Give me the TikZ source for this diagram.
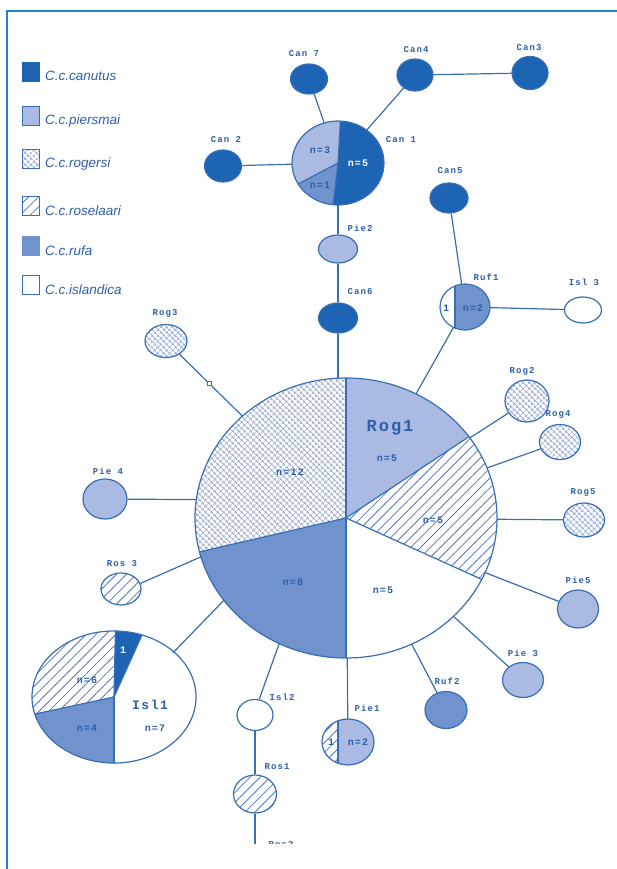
\documentclass[tikz,border=0pt]{standalone}
\usepackage{fontspec}
\setmainfont{Liberation Sans}
\newfontfamily\hapfont{Liberation Mono}[LetterSpace=12]
\usetikzlibrary{shapes.geometric,patterns.meta}

\definecolor{frameblue}{RGB}{30,130,210}
\definecolor{edge}{RGB}{55,110,180}
\definecolor{txtblue}{RGB}{45,95,170}
\definecolor{canc}{RGB}{30,100,180}
\definecolor{piec}{RGB}{170,186,226}
\definecolor{rufc}{RGB}{112,146,205}
\definecolor{rogc}{RGB}{135,160,215}
\definecolor{rosc}{RGB}{80,120,190}

% one slice of a pie: centre, x radius, y radius, from, to, style
\newcommand{\piepart}[6]{\path[#6] (#1) -- ++(#4:#2 and #3) arc[start angle=#4, end angle=#5, x radius=#2, y radius=#3] -- cycle;}

\tikzset{
  link/.style={draw=edge, line width=1.2pt},
  sz/.style 2 args={minimum width=#1pt, minimum height=#2pt},
  rogfill/.style={pattern={Hatch[angle=45,distance=4pt,line width=0.55pt]}, pattern color=rogc},
  rosfill/.style={pattern={Lines[angle=45,distance=7pt,line width=0.8pt]}, pattern color=rosc},
  hap/.style={ellipse, draw=edge, line width=1.2pt, inner sep=0pt},
  slot/.style={ellipse, inner sep=0pt},
  can/.style={hap, fill=canc},
  pie/.style={hap, fill=piec},
  ruf/.style={hap, fill=rufc},
  isl/.style={hap, fill=white},
  rog/.style={hap, rogfill},
  ros/.style={hap, rosfill},
  lbl/.style={font=\hapfont\bfseries\fontsize{9}{10}\selectfont, text=txtblue, inner sep=0pt},
  num/.style={font=\hapfont\bfseries\fontsize{10}{11}\selectfont, text=txtblue, inner sep=0pt},
  bignum/.style={font=\hapfont\bfseries\fontsize{17}{18}\selectfont, text=txtblue, inner sep=0pt},
  key/.style={font=\itshape\fontsize{13.5}{15}\selectfont, text=txtblue, anchor=west, inner sep=0pt},
  keybox/.style={draw=edge, line width=0.8pt, sz={17}{19}, inner sep=0pt},
  frame/.style={draw=frameblue, line width=1.4pt},
  mut/.style={draw=edge, fill=white, line width=0.8pt, minimum size=4pt, inner sep=0pt},
}

\begin{document}
\begin{tikzpicture}[x=1pt, y=1pt]
  \useasboundingbox (0,0) rectangle (617,-869);
  \draw[frame] (7,-869) -- (7,-11) -- (617,-11);

  %legend
  \node[keybox, fill=canc, draw=canc] (k1) at (31,-72) {};
  \node[key] (t1) at (45,-76) {C.c.canutus};
  \node[keybox, fill=piec] (k2) at (31,-116) {};
  \node[key] (t2) at (45,-121) {C.c.piersmai};
  \node[keybox, rogfill] (k3) at (31,-159) {};
  \node[key] (t3) at (45,-164) {C.c.rogersi};
  \node[keybox, rosfill] (k4) at (31,-206) {};
  \node[key] (t4) at (45,-211) {C.c.roselaari};
  \node[keybox, fill=rufc, draw=rufc] (k5) at (31,-246) {};
  \node[key] (t5) at (45,-251) {C.c.rufa};
  \node[keybox] (k6) at (31,-285) {};
  \node[key] (t6) at (45,-290) {C.c.islandica};

  %haplotypes
  \node[can, sz={37}{30}] (can7) at (309,-79) {};
  \node[can, sz={36}{32}] (can4) at (415,-75) {};
  \node[can, sz={36}{33}] (can3) at (530,-73) {};
  \node[can, sz={37}{32}] (can2) at (223,-166) {};
  \node[slot, sz={92}{84}] (can1) at (338,-163) {};
  \node[can, sz={38}{30}] (can5) at (449,-198) {};
  \node[pie, sz={39}{28}] (pie2) at (338,-249) {};
  \node[can, sz={39}{30}] (can6) at (338,-318) {};
  \node[slot, sz={50}{46}] (ruf1) at (465,-307) {};
  \node[isl, sz={37}{26}] (isl3) at (583,-310) {};
  \node[rog, sz={42}{33}] (rog3) at (166,-341) {};
  \node[rog, sz={44}{42}] (rog2) at (527,-401) {};
  \node[rog, sz={41}{35}] (rog4) at (560,-442) {};
  \node[rog, sz={41}{34}] (rog5) at (584,-520) {};
  \node[pie, sz={44}{40}] (pie4) at (105,-499) {};
  \node[ros, sz={40}{32}] (ros3) at (121,-589) {};
  \node[pie, sz={41}{38}] (pie5) at (578,-609) {};
  \node[pie, sz={41}{35}] (pie3) at (523,-680) {};
  \node[ruf, sz={42}{37}] (ruf2) at (446,-710) {};
  \node[isl, sz={36}{31}] (isl2) at (255,-715) {};
  \node[slot, sz={52}{46}] (pie1) at (348,-742) {};
  \node[ros, sz={43}{38}] (ros1) at (255,-794) {};
  \node[slot, sz={302}{280}] (rog1) at (346,-518) {};
  \node[slot, sz={164}{132}] (isl1) at (113,-698) {};

  %links
  \draw[link] (can7) -- (can1);
  \draw[link] (can4) -- (can1);
  \draw[link] (can4) -- (can3);
  \draw[link] (can2) -- (can1);
  \draw[link] (can1) -- (pie2);
  \draw[link] (pie2) -- (can6);
  \draw[link] (can6) -- (can6 |- rog1.north);
  \draw[link] (can5) -- (ruf1);
  \draw[link] (ruf1) -- (isl3);
  \draw[link] (ruf1) -- (rog1);
  \draw[link] (rog3) -- node[mut, pos=0.47] (m1) {} (rog1);
  \draw[link] (rog2) -- (rog1);
  \draw[link] (rog4) -- (rog1);
  \draw[link] (rog5) -- (rog1);
  \draw[link] (pie5) -- (rog1);
  \draw[link] (pie3) -- (rog1);
  \draw[link] (ruf2) -- (rog1);
  \draw[link] (pie1) -- (rog1);
  \draw[link] (isl2.75) -- (rog1.242);
  \draw[link] (isl1.37) -- (rog1.214);
  \draw[link] (ros3.16) -- (rog1.195);
  \draw[link] (pie4) -- (rog1.173);
  \draw[link] (isl2) -- (ros1);

  %Can1
  \piepart{338,-163}{46}{42}{-96}{87}{fill=canc}
  \piepart{338,-163}{46}{42}{87}{210}{fill=piec}
  \piepart{338,-163}{46}{42}{210}{264}{fill=rufc}
  \draw[link] (338,-163) -- ++(87:46 and 42);
  \draw[link] (338,-163) -- ++(210:46 and 42);
  \draw[link] (338,-163) -- ++(264:46 and 42);
  \draw[link] (338,-163) ellipse[x radius=46, y radius=42];

  %Rog1
  \piepart{346,-518}{151}{140}{35.5}{90}{fill=piec}
  \piepart{346,-518}{151}{140}{90}{194}{rogfill}
  \piepart{346,-518}{151}{140}{194}{270}{fill=rufc}
  \piepart{346,-518}{151}{140}{-26}{35.5}{rosfill}
  \foreach \a in {35.5,90,194,270,-26}
    \draw[link] (346,-518) -- ++(\a:151 and 140);
  \draw[link] (346,-518) ellipse[x radius=151, y radius=140];

  %Isl1
  \piepart{114,-697}{82}{66}{70}{89}{fill=canc}
  \piepart{114,-697}{82}{66}{89}{195}{rosfill}
  \piepart{114,-697}{82}{66}{195}{270}{fill=rufc}
  \foreach \a in {70,89,195,270}
    \draw[link] (114,-697) -- ++(\a:82 and 66);
  \draw[link] (114,-697) ellipse[x radius=82, y radius=66];

  %Ruf1 and Pie1
  \begin{scope}
    \clip (465,-307) ellipse[x radius=25, y radius=23];
    \fill[rufc] (455,-280) rectangle (492,-332);
  \end{scope}
  \draw[link] (455,-286) -- (455,-328);
  \draw[link] (465,-307) ellipse[x radius=25, y radius=23];
  \begin{scope}
    \clip (348,-742) ellipse[x radius=26, y radius=23];
    \fill[piec] (338,-716) rectangle (376,-768);
    \fill[rosfill] (320,-716) rectangle (338,-768);
  \end{scope}
  \draw[link] (338,-721) -- (338,-763);
  \draw[link] (348,-742) ellipse[x radius=26, y radius=23];

  %Ros2, cut off by the page
  \begin{scope}
    \clip (0,-11) rectangle (617,-843);
    \coordinate (ros2) at (255,-850);
    \draw[link] (ros1) -- (ros2);
    \node[lbl] (ros2-l) at (281,-845) {Ros2};
  \end{scope}

  %names
  \node[lbl] (can7-l) at (304,-54) {Can 7};
  \node[lbl] (can4-l) at (416,-50) {Can4};
  \node[lbl] (can3-l) at (529,-48) {Can3};
  \node[lbl] (can2-l) at (226,-140) {Can 2};
  \node[lbl] (can1-l) at (401,-140) {Can 1};
  \node[lbl] (can5-l) at (450,-171) {Can5};
  \node[lbl] (pie2-l) at (360,-228) {Pie2};
  \node[lbl] (can6-l) at (360,-292) {Can6};
  \node[lbl] (ruf1-l) at (486,-277) {Ruf1};
  \node[lbl] (isl3-l) at (584,-282) {Isl 3};
  \node[lbl] (rog3-l) at (165,-313) {Rog3};
  \node[lbl] (rog2-l) at (522,-371) {Rog2};
  \node[lbl] (rog4-l) at (558,-414) {Rog4};
  \node[lbl] (rog5-l) at (583,-492) {Rog5};
  \node[lbl] (pie4-l) at (108,-471) {Pie 4};
  \node[lbl] (ros3-l) at (122,-564) {Ros 3};
  \node[lbl] (pie5-l) at (578,-580) {Pie5};
  \node[lbl] (pie3-l) at (523,-653) {Pie 3};
  \node[lbl] (ruf2-l) at (447,-681) {Ruf2};
  \node[lbl] (isl2-l) at (282,-697) {Isl2};
  \node[lbl] (pie1-l) at (367,-708) {Pie1};
  \node[lbl] (ros1-l) at (277,-767) {Ros1};

  %counts
  \node[num] (c1a) at (320,-150) {n=3};
  \node[num] (c1b) at (320,-185) {n=1};
  \node[num, text=white] (c1c) at (358,-163) {n=5};
  \node[num] (r1a) at (446,-308) {1};
  \node[num] (r1b) at (473,-308) {n=2};
  \node[bignum] (rog1-l) at (390,-428) {Rog1};
  \node[num] (g1a) at (387,-458) {n=5};
  \node[num] (g1b) at (290,-472) {n=12};
  \node[num] (g1c) at (433,-520) {n=5};
  \node[num] (g1d) at (293,-582) {n=8};
  \node[num] (g1e) at (383,-590) {n=5};
  \node[num, text=white] (i1a) at (123,-650) {1};
  \node[num] (i1b) at (87,-680) {n=6};
  \node[num] (i1c) at (87,-728) {n=4};
  \node[num, font=\hapfont\bfseries\fontsize{13}{14}\selectfont] (isl1-l) at (150,-705) {Isl1};
  \node[num] (i1d) at (155,-728) {n=7};
  \node[num] (p1a) at (331,-742) {1};
  \node[num] (p1b) at (358,-742) {n=2};
\end{tikzpicture}
\end{document}
